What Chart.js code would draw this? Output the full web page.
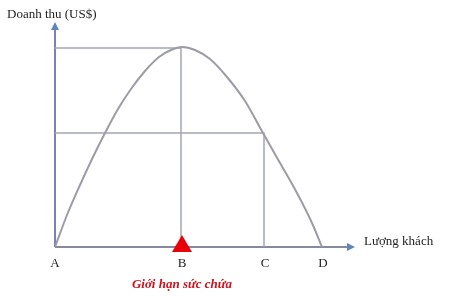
<!DOCTYPE html>
<html>
<head>
  <title>Doanh thu theo lượng khách</title>
  <script src="https://cdn.jsdelivr.net/npm/chart.js"></script>
  <style>
    body { margin: 0; background: #fff; }
    .wrap { width: 449px; height: 296px; }
  </style>
</head>
<body>
  <div class="wrap"><canvas id="chart"></canvas></div>

  <script>
    // curve (x = guests, y = revenue, arbitrary units)
    const curveX = [0, 12, 25, 38, 50, 63, 76, 90, 104, 116, 127, 140, 155, 172, 190, 208, 225, 242, 257, 267];
    const curveY = [0, 32, 62, 90, 114, 138, 158, 176, 190, 197, 200, 197, 188, 170, 146, 114, 84, 54, 24, 0];

    // points on the x axis
    const pointLabels = ['A', 'B', 'C', 'D'];
    const pointX = [0, 126, 209, 267];

    // guide lines: peak (B) and point C
    const peakRevenue = 199;
    const cRevenue = 114;

    const xMax = 300;
    const yMax = 225;

    const yTitle = 'Doanh thu (US$)';
    const xTitle = 'Lượng khách';
    const capacityText = 'Giới hạn sức chứa';

    const curve = curveX.map((x, i) => ({ x: x, y: curveY[i] }));
    const guideB = [{ x: 0, y: peakRevenue }, { x: pointX[1], y: peakRevenue }, { x: pointX[1], y: 0 }];
    const guideC = [{ x: 0, y: cRevenue }, { x: pointX[2], y: cRevenue }, { x: pointX[2], y: 0 }];

    // axes with arrows, labels, red marker
    const drawing = {
      id: 'drawing',
      beforeDatasetsDraw(chart) {
        const ctx = chart.ctx;
        const xs = chart.scales.x, ys = chart.scales.y;
        const x0 = xs.getPixelForValue(0), y0 = ys.getPixelForValue(0);
        const xEnd = xs.getPixelForValue(xMax), yEnd = ys.getPixelForValue(yMax);
        ctx.save();
        ctx.lineWidth = 2;
        ctx.strokeStyle = '#7d7fb8';
        ctx.beginPath(); ctx.moveTo(x0, y0); ctx.lineTo(x0, yEnd + 4); ctx.stroke();
        ctx.strokeStyle = '#858a9c';
        ctx.beginPath(); ctx.moveTo(x0, y0); ctx.lineTo(xEnd - 4, y0); ctx.stroke();
        ctx.fillStyle = '#5f86b8';
        ctx.beginPath(); ctx.moveTo(x0, yEnd); ctx.lineTo(x0 - 4, yEnd + 8); ctx.lineTo(x0 + 4, yEnd + 8); ctx.fill();
        ctx.beginPath(); ctx.moveTo(xEnd, y0); ctx.lineTo(xEnd - 8, y0 - 4); ctx.lineTo(xEnd - 8, y0 + 4); ctx.fill();
        ctx.restore();
      },
      afterDatasetsDraw(chart) {
        const ctx = chart.ctx;
        const xs = chart.scales.x, ys = chart.scales.y;
        const y0 = ys.getPixelForValue(0);
        ctx.save();
        ctx.fillStyle = '#222';
        ctx.font = '13px "Liberation Serif"';
        ctx.textBaseline = 'middle';
        ctx.textAlign = 'left';
        ctx.fillText(yTitle, 7, 15);
        ctx.fillText(xTitle, xs.getPixelForValue(xMax) + 9, y0 - 5);
        ctx.textAlign = 'center';
        pointLabels.forEach((t, i) => {
          ctx.fillText(t, xs.getPixelForValue(pointX[i]) + (i === 0 ? 0 : 1), y0 + 17);
        });
        // capacity marker at B
        const bx = xs.getPixelForValue(pointX[1]) + 1;
        ctx.fillStyle = '#e8000b';
        ctx.beginPath();
        ctx.moveTo(bx, y0 - 12);
        ctx.lineTo(bx - 10, y0 + 5);
        ctx.lineTo(bx + 10, y0 + 5);
        ctx.closePath();
        ctx.fill();
        ctx.fillStyle = '#d0101c';
        ctx.font = 'italic bold 13px "Liberation Serif"';
        ctx.fillText(capacityText, bx, y0 + 38);
        ctx.restore();
      }
    };

    new Chart(document.getElementById('chart'), {
      type: 'scatter',
      data: {
        datasets: [
          {
            data: curve,
            showLine: true,
            cubicInterpolationMode: 'monotone',
            borderColor: '#9c9ca8',
            borderWidth: 2,
            pointRadius: 0
          },
          {
            data: guideB,
            showLine: true,
            borderColor: '#a4a6b2',
            borderWidth: 1.5,
            pointRadius: 0
          },
          {
            data: guideC,
            showLine: true,
            borderColor: '#a4a6b2',
            borderWidth: 1.5,
            pointRadius: 0
          }
        ]
      },
      options: {
        responsive: true,
        maintainAspectRatio: false,
        animation: false,
        layout: { padding: { left: 55, top: 22, right: 94, bottom: 49 } },
        plugins: { legend: { display: false }, tooltip: { enabled: false } },
        scales: {
          x: { type: 'linear', min: 0, max: xMax, display: false },
          y: { type: 'linear', min: 0, max: yMax, display: false }
        }
      },
      plugins: [drawing]
    });
  </script>
</body>
</html>
